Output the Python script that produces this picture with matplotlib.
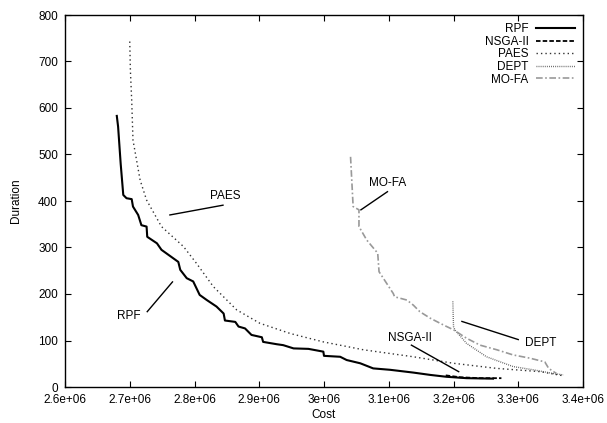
import matplotlib
matplotlib.use("Agg")
import matplotlib.pyplot as plt

plt.rcParams['font.family'] = ['Liberation Sans', 'DejaVu Sans']

rpf_x = [2.680e6, 2.682e6, 2.684e6, 2.686e6, 2.690e6, 2.695e6, 2.703e6, 2.705e6, 2.713e6, 2.718e6, 2.726e6, 2.727e6,
         2.742e6, 2.749e6, 2.767e6, 2.775e6, 2.778e6, 2.788e6, 2.798e6, 2.808e6, 2.819e6, 2.834e6, 2.845e6,
         2.847e6, 2.863e6, 2.868e6, 2.878e6, 2.888e6, 2.904e6, 2.906e6, 2.927e6, 2.937e6, 2.953e6, 2.976e6,
         2.999e6, 3.000e6, 3.025e6, 3.035e6, 3.056e6, 3.076e6, 3.102e6, 3.138e6, 3.164e6, 3.189e6, 3.220e6, 3.261e6]
rpf_y = [583, 560, 520, 480, 413, 406, 404, 388, 370, 348, 345, 323,
         309, 295, 277, 269, 252, 234, 227, 198, 187, 173, 158,
         143, 140, 130, 126, 112, 107, 97, 92, 90, 83, 82,
         76, 67, 65, 58, 51, 40, 37, 31, 26, 22, 19, 18]

nsga_x = [3.188e6, 3.210e6, 3.240e6, 3.274e6]
nsga_y = [25, 21, 19, 19]

paes_x = [2.700e6, 2.701e6, 2.703e6, 2.705e6, 2.716e6, 2.726e6, 2.749e6, 2.783e6, 2.803e6,
          2.829e6, 2.865e6, 2.901e6, 2.948e6, 2.999e6, 3.061e6, 3.138e6, 3.200e6, 3.267e6, 3.334e6, 3.370e6]
paes_y = [743, 680, 617, 531, 445, 402, 345, 302, 266,
          216, 166, 137, 115, 97, 80, 65, 51, 40, 33, 24]

dept_x = [3.199e6, 3.200e6, 3.202e6, 3.220e6, 3.251e6, 3.292e6, 3.323e6, 3.354e6, 3.370e6]
dept_y = [184, 130, 123, 94, 65, 44, 37, 29, 26]

mofa_x = [3.041e6, 3.045e6, 3.054e6, 3.054e6, 3.066e6, 3.081e6, 3.083e6, 3.085e6, 3.107e6, 3.109e6, 3.128e6,
          3.138e6, 3.148e6, 3.164e6, 3.185e6, 3.200e6, 3.220e6, 3.241e6, 3.267e6, 3.292e6, 3.318e6, 3.341e6,
          3.347e6, 3.359e6]
mofa_y = [495, 388, 381, 345, 316, 291, 287, 248, 201, 194, 187,
          176, 162, 148, 133, 123, 105, 90, 80, 69, 62, 54,
          40, 29]

x_ticks = [2.6e6, 2.7e6, 2.8e6, 2.9e6, 3.0e6, 3.1e6, 3.2e6, 3.3e6, 3.4e6]
x_tick_labels = ['2.6e+06', '2.7e+06', '2.8e+06', '2.9e+06', '3e+06', '3.1e+06', '3.2e+06', '3.3e+06', '3.4e+06']
y_ticks = [0, 100, 200, 300, 400, 500, 600, 700, 800]

fig = plt.figure(figsize=(6.07, 4.23), dpi=100)
ax = fig.add_axes([65/607, 1-387/423, (583-65)/607, (387-15)/423])

ax.plot(rpf_x, rpf_y, color='black', lw=1.5, label='RPF')
ax.plot(nsga_x, nsga_y, color='black', lw=1.3, ls=(0, (2.5, 1.2)), label='NSGA-II')
ax.plot(paes_x, paes_y, color='#333333', lw=1.0, ls=(0, (1, 2.2)), label='PAES')
ax.plot(dept_x, dept_y, color='#555555', lw=1.0, ls=(0, (0.6, 0.9)), label='DEPT')
ax.plot(mofa_x, mofa_y, color='#999999', lw=1.2, ls=(0, (4, 1.5, 1, 1.5)), label='MO-FA')

fs = 8.5
ax.set_xlim(2.6e6, 3.4e6)
ax.set_ylim(0, 800)
ax.set_xticks(x_ticks)
ax.set_xticklabels(x_tick_labels)
ax.set_yticks(y_ticks)
ax.tick_params(direction='in', top=True, right=True, length=4, width=0.8, labelsize=fs, pad=5)
for s in ax.spines.values():
    s.set_linewidth(1.0)
ax.set_xlabel('Cost', fontsize=fs, labelpad=2)
ax.set_ylabel('Duration', fontsize=fs, labelpad=12)

leg = ax.legend(loc='upper right', markerfirst=False, frameon=False, fontsize=fs,
                handlelength=3.3, handletextpad=0.6, labelspacing=0.05, borderaxespad=0.3)
for t in leg.get_texts():
    t.set_ha('right')

# annotations
ax.plot([2.762e6, 2.844e6], [370, 391], color='black', lw=1.0)
ax.text(2.847e6, 410, 'PAES', fontsize=fs, ha='center', va='center')
ax.plot([2.727e6, 2.766e6], [162, 226], color='black', lw=1.0)
ax.text(2.698e6, 153, 'RPF', fontsize=fs, ha='center', va='center')
ax.plot([3.098e6, 3.057e6], [420, 381], color='black', lw=1.0)
ax.text(3.099e6, 438, 'MO-FA', fontsize=fs, ha='center', va='center')
ax.plot([3.300e6, 3.213e6], [102, 141], color='black', lw=1.0)
ax.text(3.334e6, 94, 'DEPT', fontsize=fs, ha='center', va='center')
ax.plot([3.135e6, 3.208e6], [90, 33], color='black', lw=1.0)
ax.text(3.133e6, 105, 'NSGA-II', fontsize=fs, ha='center', va='center')

fig.savefig('out.png', dpi=100)
